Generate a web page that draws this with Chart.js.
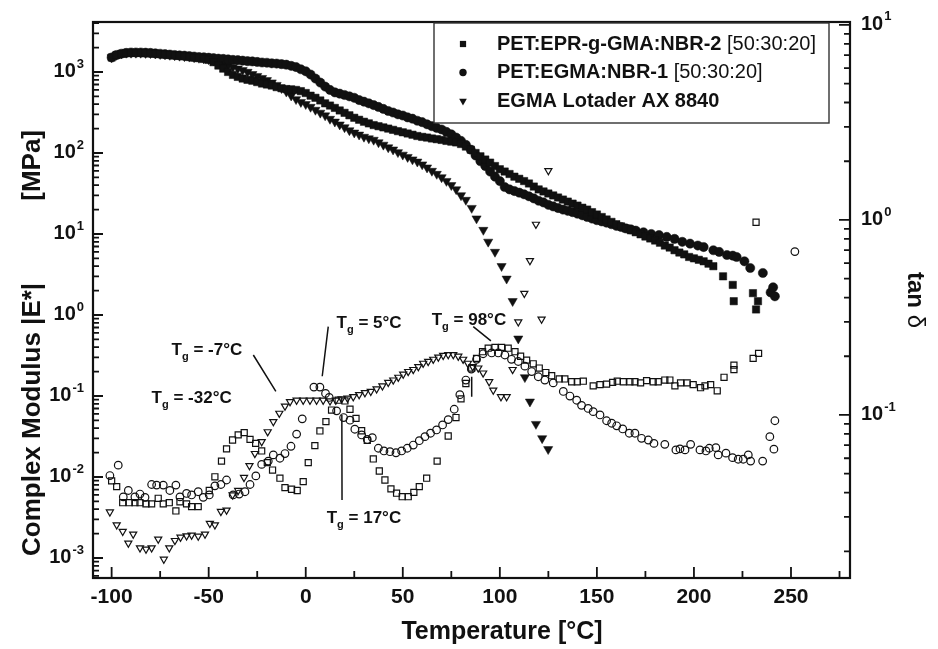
<!DOCTYPE html>
<html>
<head>
<meta charset="utf-8">
<script src="https://cdn.jsdelivr.net/npm/chart.js@4.4.1/dist/chart.umd.min.js"></script>
<style>
  html, body { margin: 0; padding: 0; background: #fff; }
  canvas { display: block; }
</style>
</head>
<body>
<canvas id="dmaChart" width="938" height="649"></canvas>
<script>
// DMA: complex modulus (filled, left axis) and tan delta (open, right axis)

const seriesNames = ['PET:EPR-g-GMA:NBR-2', 'PET:EGMA:NBR-1', 'EGMA Lotader AX 8840'];
const seriesRatio = [' [50:30:20]', ' [50:30:20]', ''];

// [temperature °C, |E*| MPa]
const modulusEPR = [
  [-100,1510],[-97.5,1620],[-95,1680],[-92.5,1720],[-90,1720],[-87.5,1720],[-85,1720],[-82.5,1710],
  [-80,1700],[-77.5,1680],[-75,1660],[-72.5,1640],[-70,1620],[-67.5,1600],[-65,1580],[-62.5,1560],
  [-60,1530],[-57.5,1500],[-55,1480],[-52.5,1450],[-50,1410],[-47.5,1320],[-45,1200],[-42.5,1100],
  [-40,1000],[-37.5,920],[-35,870],[-32.5,830],[-30,800],[-27.5,780],[-25,750],[-22.5,720],
  [-20,700],[-17.5,680],[-15,650],[-12.5,630],[-10,615],[-7.5,610],[-5,600],[-2.5,580],
  [0,550],[2.5,510],[5,480],[7.5,445],[10,410],[12.5,385],[15,360],[17.5,335],
  [20,313],[22.5,292],[25,272],[27.5,257],[30,243],[32.5,232],[35,221],[37.5,214],
  [40,207],[42.5,200],[45,193],[47.5,186],[50,180],[52.5,174],[55,168],[57.5,162],
  [60,158],[62.5,155],[65,151],[67.5,148],[70,145],[72.5,141],[75,138],[77.5,135],
  [80,129],[82.5,120],[85,110],[87.5,100],[90,91],[92.5,83],[95,76],[97.5,69],
  [100,63],[102.5,59],[105,55],[107.5,51],[110,48],[112.5,45],[115,42],[117.5,38.5],
  [120,35.5],[122.5,33.5],[125,31.6],[127.5,29.9],[130,28.2],[132.5,26.6],[135,25.1],[137.5,23.7],
  [140,22.4],[142.5,21.1],[145,20],[147.5,18.6],[150,17.4],[152.5,16.2],[155,15.1],[157.5,14.1],
  [160,13.2],[162.5,12.4],[165,11.7],[167.5,11.1],[170,10.5],[172.5,9.9],[175,9.3],[177.5,8.8],
  [180,8.3],[182.5,7.8],[185,7.2],[187.5,6.8],[190,6.3],[192.5,5.9],[195,5.6],[197.5,5.2],
  [200,5.0],[202.5,4.8],[205,4.6],[207.5,4.3],[210,4.0],[215,3.0],[220,2.35],[220.5,1.48],
  [230.4,1.86],[232,1.17],[233,1.48]
];

const modulusEGMA = [
  [-100,1510],[-97.5,1620],[-95,1680],[-92.5,1720],[-90,1740],[-87.5,1740],[-85,1740],[-82.5,1730],
  [-80,1720],[-77.5,1700],[-75,1680],[-72.5,1660],[-70,1640],[-67.5,1620],[-65,1600],[-62.5,1590],
  [-60,1570],[-57.5,1550],[-55,1530],[-52.5,1520],[-50,1500],[-47.5,1480],[-45,1460],[-42.5,1450],
  [-40,1430],[-37.5,1410],[-35,1400],[-32.5,1380],[-30,1360],[-27.5,1350],[-25,1330],[-22.5,1310],
  [-20,1300],[-17.5,1280],[-15,1270],[-12.5,1250],[-10,1230],[-7.5,1190],[-5,1150],[-2.5,1080],
  [0,1020],[2.5,930],[5,830],[7.5,740],[10,660],[12.5,600],[15,560],[17.5,540],
  [20,520],[22.5,500],[25,480],[27.5,450],[30,430],[32.5,410],[35,390],[37.5,370],
  [40,350],[42.5,330],[45,316],[47.5,300],[50,290],[52.5,275],[55,265],[57.5,250],
  [60,240],[62.5,226],[65,214],[67.5,204],[70,195],[72.5,182],[75,170],[77.5,155],
  [80,141],[82.5,126],[85,110],[87.5,93],[90,79],[92.5,69],[95,59],[97.5,51],
  [100,45],[102.5,38],[105,35.5],[107.5,33.9],[110,32.4],[112.5,30.9],[115,29.2],[117.5,27.5],
  [120,25.7],[122.5,24.5],[125,22.9],[127.5,21.9],[130,20.9],[132.5,20.0],[135,19.3],[137.5,18.6],
  [140,17.8],[142.5,17.0],[145,16.2],[147.5,15.5],[150,14.8],[152.5,14.3],[155,13.8],[157.5,13.2],
  [160,12.6],[162.5,12.2],[165,11.7],[167.5,11.4],[170,11.0],[174,10.5],[178,10.0],[182,9.7],
  [186,9.2],[190,8.7],[194,8.0],[198,7.6],[202,7.2],[205,6.9],[210,6.3],[213,6.0],
  [217,5.5],[220,5.4],[222,5.2],[226,4.6],[229,3.8],[235.5,3.3],[239.5,1.9],[240.8,2.2],
  [241.7,1.7]
];

const modulusLotader = [
  [-100,1510],[-97.5,1620],[-95,1680],[-92.5,1720],[-90,1720],[-87.5,1720],[-85,1720],[-82.5,1710],
  [-80,1700],[-77.5,1680],[-75,1660],[-72.5,1640],[-70,1620],[-67.5,1600],[-65,1580],[-62.5,1560],
  [-60,1540],[-57.5,1510],[-55,1490],[-52.5,1460],[-50,1430],[-47.5,1380],[-45,1320],[-42.5,1260],
  [-40,1200],[-37.5,1150],[-35,1100],[-32.5,1050],[-30,1000],[-27.5,940],[-25,890],[-22.5,840],
  [-20,790],[-17.5,740],[-15,690],[-12.5,630],[-10,570],[-7.5,510],[-5,460],[-2.5,425],
  [0,400],[2.5,370],[5,340],[7.5,313],[10,290],[12.5,263],[15,243],[17.5,224],
  [20,207],[22.5,190],[25,178],[27.5,168],[30,158],[32.5,151],[35,145],[37.5,135],
  [40,126],[42.5,117],[45,110],[47.5,102],[50,95],[52.5,89],[55,83],[57.5,78],
  [60,72],[62.5,66],[65,60],[67.5,55],[70,50],[72.5,45],[75,40],[77.5,35.5],
  [80,30],[82.5,26.3],[85.5,20.9],[88,15.5],[91.5,11.2],[94,8.0],[97.5,6.0],[100.9,4.0],
  [103.5,2.8],[106.6,1.48],[109.5,0.51],[112.9,0.17],[115.5,0.085],[118.6,0.045],[121.8,0.030],[124.9,0.022]
];

// [temperature °C, tan delta]
const tanDeltaEPR = [
  [-100,0.0459],[-97.4,0.0429],[-94.3,0.0355],[-90.9,0.0355],[-88,0.0355],[-85.4,0.0355],[-82.3,0.035],[-79.4,0.035],
  [-76,0.0374],[-73.4,0.035],[-70.3,0.0355],[-66.9,0.0322],[-64.8,0.0359],[-61.4,0.035],[-58.8,0.0339],[-55.4,0.0339],
  [-49.7,0.041],[-46.8,0.0482],[-43.4,0.058],[-40.8,0.067],[-37.7,0.0744],[-34.8,0.079],[-31.7,0.0812],[-28.7,0.075],
  [-25.8,0.0715],[-22.7,0.0654],[-19.8,0.057],[-17.1,0.0522],[-13.3,0.0474],[-10.7,0.0424],[-7.3,0.0416],[-4.4,0.041],
  [-1.3,0.0455],[1.3,0.057],[4.7,0.0696],[7.3,0.0828],[10.4,0.0924],[13.3,0.106],[16.7,0.119],[20.2,0.118],
  [22.8,0.107],[25.9,0.096],[28.8,0.083],[31.7,0.074],[34.8,0.0595],[37.9,0.0516],[40.8,0.0464],[43.9,0.0418],
  [46.8,0.0397],[49.7,0.0381],[52.8,0.0381],[55.7,0.0401],[58.5,0.0429],[62.3,0.0474],[67.7,0.058],[73.4,0.078],
  [77.4,0.097],[80,0.121],[82.5,0.145],[85.5,0.174],[88,0.195],[91.1,0.211],[94,0.22],[97.5,0.222],
  [100.9,0.222],[104.3,0.22],[107.8,0.211],[110.7,0.2],[113.8,0.191],[117.2,0.183],[120.3,0.174],[123.7,0.165],
  [126.7,0.159],[130.6,0.153],[133.5,0.153],[137,0.148],[139.9,0.148],[143,0.149],[148.1,0.141],[151.6,0.143],
  [155,0.144],[158.1,0.147],[160.5,0.149],[163.6,0.148],[167,0.148],[169.6,0.148],[172.5,0.146],[175.6,0.15],
  [179,0.148],[181.6,0.148],[185,0.151],[187.6,0.151],[190.2,0.141],[193.1,0.146],[196.5,0.146],[199.6,0.143],
  [203.4,0.138],[205.7,0.141],[208.6,0.143],[212,0.133],[215.5,0.156],[220.6,0.18],[220.6,0.171],[230.5,0.195],
  [232,0.973],[233.3,0.207]
];

const tanDeltaEGMA = [
  [-100.9,0.0489],[-96.6,0.0553],[-94,0.038],[-91.4,0.041],[-88,0.038],[-85.4,0.0393],[-82.8,0.0378],[-79.4,0.044],
  [-76.8,0.0437],[-73.4,0.0437],[-70,0.041],[-66.9,0.0437],[-64.8,0.038],[-61.4,0.0396],[-58.8,0.0389],[-55.4,0.0404],
  [-52.8,0.0378],[-49.7,0.0389],[-46.8,0.0433],[-43.7,0.044],[-40.8,0.0464],[-37.4,0.0389],[-34.3,0.0393],[-31.3,0.0404],
  [-28.7,0.044],[-25.7,0.0487],[-22.7,0.0558],[-19.3,0.058],[-16.7,0.0624],[-13.3,0.06],[-10.7,0.0634],[-7.6,0.0691],
  [-4.7,0.0798],[-1.8,0.0955],[4.2,0.139],[7.3,0.139],[10.2,0.129],[12.1,0.123],[15.9,0.105],[19.5,0.097],
  [22.8,0.094],[25.3,0.0845],[28.8,0.079],[31.7,0.0749],[34.3,0.0765],[37.4,0.0675],[40.3,0.0654],[43.4,0.0648],
  [46.5,0.064],[49.4,0.0654],[52.3,0.0675],[55.4,0.0701],[58.5,0.0738],[61.4,0.0774],[64.3,0.0806],[67.4,0.0838],
  [70.5,0.0889],[73.4,0.0947],[76.5,0.107],[79.4,0.127],[82.5,0.151],[85.3,0.172],[88,0.193],[91.4,0.206],
  [95.8,0.208],[99.2,0.208],[102.6,0.203],[106,0.193],[109.5,0.188],[112.9,0.178],[116.4,0.167],[119.8,0.157],
  [123.2,0.151],[127.5,0.146],[132.7,0.132],[136.1,0.125],[139.6,0.119],[142.1,0.112],[145.5,0.108],[148.1,0.104],
  [151.6,0.10],[155,0.0934],[157.6,0.0907],[160.2,0.088],[163.3,0.0848],[166.7,0.0806],[169.6,0.0806],[173,0.0759],
  [176.5,0.0744],[179.4,0.0715],[185,0.0707],[190.7,0.0662],[192.8,0.067],[195.4,0.0662],[198.3,0.0707],[203.1,0.0662],
  [206.2,0.0654],[207.9,0.0675],[211.3,0.068],[212.5,0.0624],[216.5,0.0637],[219.9,0.0604],[222.8,0.0593],[225.4,0.0593],
  [228,0.0624],[229.2,0.058],[235.4,0.058],[239.1,0.0774],[241.2,0.0668],[241.7,0.0934],[252,0.688]
];

const tanDeltaLotader = [
  [-100.9,0.0318],[-97.4,0.0273],[-94.3,0.0253],[-91.4,0.022],[-88.9,0.0245],[-85.4,0.0208],[-82.3,0.0205],[-79.4,0.0208],
  [-76,0.0231],[-73.1,0.0182],[-70.3,0.0208],[-67.4,0.0227],[-64.5,0.0236],[-61.4,0.024],[-58.8,0.0242],[-55.4,0.0239],
  [-51.9,0.0245],[-49.4,0.0278],[-46.8,0.0273],[-43.7,0.032],[-40.8,0.0325],[-37.7,0.0389],[-34.8,0.041],[-31.8,0.0478],
  [-29,0.055],[-26.2,0.0634],[-22.7,0.073],[-19.6,0.082],[-16.7,0.0924],[-13.6,0.102],[-10.7,0.111],[-8.1,0.117],
  [-4.7,0.119],[-1.3,0.119],[2.2,0.119],[5.6,0.119],[9,0.119],[12.5,0.118],[15.5,0.119],[18.5,0.121],
  [21.5,0.122],[24.5,0.124],[27.5,0.127],[30.5,0.13],[33.5,0.132],[36.5,0.136],[39.5,0.141],[42.5,0.147],
  [45.1,0.151],[47.7,0.156],[50.2,0.162],[52.8,0.167],[55.4,0.171],[58,0.177],[60.5,0.184],[63.1,0.188],
  [65.7,0.193],[68.3,0.198],[70.8,0.202],[73.4,0.204],[76,0.204],[78.6,0.2],[81.1,0.193],[83.5,0.184],
  [86,0.177],[88.9,0.174],[91.4,0.164],[94.5,0.148],[96.6,0.134],[100.6,0.124],[103.5,0.124],[106.6,0.171],
  [109.5,0.30],[112.6,0.42],[115.5,0.618],[118.6,0.95],[121.5,0.31],[125,1.79]
];

// axis ticks
const tempTicks = [-100, -50, 0, 50, 100, 150, 200, 250];
const modulusExps = [-3, -2, -1, 0, 1, 2, 3];
const tanExps = [-1, 0, 1];

// Tg annotations, placed in [temperature, tan delta] space
const tgLabels = [
  { value: '-32°C', at: [-79.4, 0.1158] },
  { value: '-7°C', at: [-69.1, 0.203] },
  { value: '5°C', at: [15.9, 0.278] },
  { value: '17°C', at: [10.8, 0.0279] },
  { value: '98°C', at: [64.9, 0.29] }
];
const tgLeaders = [
  [[-27.0, 0.203], [-15.4, 0.132]],
  [[11.6, 0.284], [8.5, 0.158]],
  [[18.6, 0.100], [18.7, 0.0366]],
  [[86.3, 0.284], [95.4, 0.24]],
  [[85.5, 0.157], [85.5, 0.124]]
];

const FONT = '"Liberation Sans", Arial, Helvetica, sans-serif';
const INK = '#111';
const toXY = rows => rows.map(([x, y]) => ({ x: x, y: y }));

const markers = [
  { pointStyle: 'rect', rotation: 0, filledR: 5.2, openR: 4.3, legendR: 4.4 },
  { pointStyle: 'circle', rotation: 0, filledR: 4.6, openR: 3.8, legendR: 3.7 },
  { pointStyle: 'triangle', rotation: 180, filledR: 5.3, openR: 4.1, legendR: 4.4 }
];

function filledSet(rows, m) {
  return {
    data: toXY(rows), xAxisID: 'x', yAxisID: 'yMod',
    pointStyle: m.pointStyle, pointRotation: m.rotation, pointRadius: m.filledR,
    pointBackgroundColor: INK, pointBorderColor: INK, pointBorderWidth: 0.5
  };
}
function openSet(rows, m) {
  return {
    data: toXY(rows), xAxisID: 'x', yAxisID: 'yTan',
    pointStyle: m.pointStyle, pointRotation: m.rotation, pointRadius: m.openR,
    pointBackgroundColor: 'rgba(0,0,0,0)', pointBorderColor: INK, pointBorderWidth: 1.2
  };
}

function drawPow(ctx, exp, x, y, align) {
  const sup = String(exp);
  ctx.font = 'bold 20px ' + FONT;
  const wb = ctx.measureText('10').width;
  ctx.font = 'bold 13px ' + FONT;
  const ws = ctx.measureText(sup).width;
  const x0 = align === 'right' ? x - wb - ws - 1 : x;
  ctx.textAlign = 'left';
  ctx.textBaseline = 'middle';
  ctx.font = 'bold 20px ' + FONT;
  ctx.fillText('10', x0, y);
  ctx.font = 'bold 13px ' + FONT;
  ctx.fillText(sup, x0 + wb + 1, y - 8);
}

const frameAndText = {
  id: 'frameAndText',
  afterDatasetsDraw(chart) {
    const ctx = chart.ctx;
    const a = chart.chartArea;
    const xs = chart.scales.x, ym = chart.scales.yMod, yt = chart.scales.yTan;
    ctx.save();
    ctx.strokeStyle = INK;
    ctx.fillStyle = INK;

    // frame
    ctx.lineWidth = 2.2;
    ctx.strokeRect(a.left, a.top, a.right - a.left, a.bottom - a.top);

    // inward ticks
    ctx.lineWidth = 1.8;
    ctx.beginPath();
    for (let t = -100; t <= 275; t += 25) {
      const px = xs.getPixelForValue(t);
      const len = t % 50 === 0 ? 11 : 7;
      ctx.moveTo(px, a.bottom); ctx.lineTo(px, a.bottom - len);
    }
    for (let k = -4; k <= 3; k++) {
      for (let m = 1; m <= 9; m++) {
        const v = m * Math.pow(10, k);
        if (v >= ym.min && v <= ym.max) {
          const py = ym.getPixelForValue(v);
          ctx.moveTo(a.left, py); ctx.lineTo(a.left + (m === 1 ? 10 : 6), py);
        }
        if (v >= yt.min && v <= yt.max) {
          const py = yt.getPixelForValue(v);
          ctx.moveTo(a.right, py); ctx.lineTo(a.right - (m === 1 ? 11 : 6), py);
        }
      }
    }
    ctx.stroke();

    // tick labels
    ctx.font = 'bold 21px ' + FONT;
    ctx.textAlign = 'center';
    ctx.textBaseline = 'middle';
    tempTicks.forEach(t => ctx.fillText(String(t), xs.getPixelForValue(t), a.bottom + 19));
    modulusExps.forEach(e => drawPow(ctx, e, a.left - 9, ym.getPixelForValue(Math.pow(10, e)), 'right'));
    tanExps.forEach(e => drawPow(ctx, e, a.right + 11, yt.getPixelForValue(Math.pow(10, e)), 'left'));

    // axis titles
    ctx.font = 'bold 25px ' + FONT;
    ctx.textAlign = 'center';
    ctx.textBaseline = 'middle';
    ctx.fillText('Temperature [°C]', 502, 632);
    ctx.save();
    ctx.translate(33, 0);
    ctx.rotate(-Math.PI / 2);
    ctx.font = 'bold 26px ' + FONT;
    ctx.textAlign = 'left';
    ctx.fillText('Complex Modulus |E*|', -556, 0);
    ctx.textAlign = 'right';
    ctx.fillText('[MPa]', -130, 0);
    ctx.restore();
    ctx.save();
    ctx.translate(915, 300);
    ctx.rotate(Math.PI / 2);
    ctx.font = 'bold 24px ' + FONT;
    const wTan = ctx.measureText('tan ').width;
    ctx.font = '24px ' + FONT;
    const wDel = ctx.measureText('δ').width;
    ctx.textAlign = 'left';
    ctx.font = 'bold 24px ' + FONT;
    ctx.fillText('tan ', -(wTan + wDel) / 2, 0);
    ctx.font = '24px ' + FONT;
    ctx.fillText('δ', -(wTan + wDel) / 2 + wTan, 0);
    ctx.restore();

    // Tg notes
    ctx.textAlign = 'left';
    ctx.textBaseline = 'alphabetic';
    tgLabels.forEach(n => {
      let px = xs.getPixelForValue(n.at[0]);
      const py = yt.getPixelForValue(n.at[1]);
      ctx.font = 'bold 17px ' + FONT;
      ctx.fillText('T', px, py);
      px += ctx.measureText('T').width;
      ctx.font = 'bold 11px ' + FONT;
      ctx.fillText('g', px, py + 5);
      px += ctx.measureText('g').width;
      ctx.font = 'bold 17px ' + FONT;
      ctx.fillText(' = ' + n.value, px, py);
    });
    ctx.lineWidth = 1.5;
    ctx.beginPath();
    tgLeaders.forEach(([p, q]) => {
      ctx.moveTo(xs.getPixelForValue(p[0]), yt.getPixelForValue(p[1]));
      ctx.lineTo(xs.getPixelForValue(q[0]), yt.getPixelForValue(q[1]));
    });
    ctx.stroke();

    // legend box
    const lx = 434, ly = a.top + 1, lw = 395, lh = 100;
    ctx.fillStyle = '#fff';
    ctx.fillRect(lx, ly, lw, lh);
    ctx.strokeStyle = '#333';
    ctx.lineWidth = 1.4;
    ctx.strokeRect(lx, ly, lw, lh);
    ctx.fillStyle = INK;
    ctx.strokeStyle = INK;
    seriesNames.forEach((name, i) => {
      const ry = ly + 21 + i * 28.5;
      const m = markers[i];
      Chart.helpers.drawPoint(ctx, { pointStyle: m.pointStyle, rotation: m.rotation, radius: m.legendR, borderWidth: 0 }, 463, ry);
      ctx.textBaseline = 'middle';
      ctx.font = 'bold 20px ' + FONT;
      ctx.fillText(name, 497, ry);
      const w = ctx.measureText(name).width;
      ctx.font = '20px ' + FONT;
      ctx.fillText(seriesRatio[i], 497 + w, ry);
    });
    ctx.restore();
  }
};

new Chart(document.getElementById('dmaChart').getContext('2d'), {
  type: 'scatter',
  data: {
    datasets: [
      filledSet(modulusEPR, markers[0]),
      filledSet(modulusEGMA, markers[1]),
      filledSet(modulusLotader, markers[2]),
      openSet(tanDeltaEPR, markers[0]),
      openSet(tanDeltaEGMA, markers[1]),
      openSet(tanDeltaLotader, markers[2])
    ]
  },
  options: {
    responsive: false,
    devicePixelRatio: 1,
    animation: false,
    events: [],
    layout: { padding: { left: 93, right: 88, top: 22, bottom: 71 } },
    scales: {
      x: { type: 'linear', min: -109.6, max: 280.4, display: false },
      y: { display: false },
      yMod: { type: 'logarithmic', position: 'left', min: 5.66e-4, max: 4140, display: false },
      yTan: { type: 'logarithmic', position: 'right', min: 0.01459, max: 10.35, display: false }
    },
    plugins: { legend: { display: false }, tooltip: { enabled: false } }
  },
  plugins: [frameAndText]
});
</script>
</body>
</html>
